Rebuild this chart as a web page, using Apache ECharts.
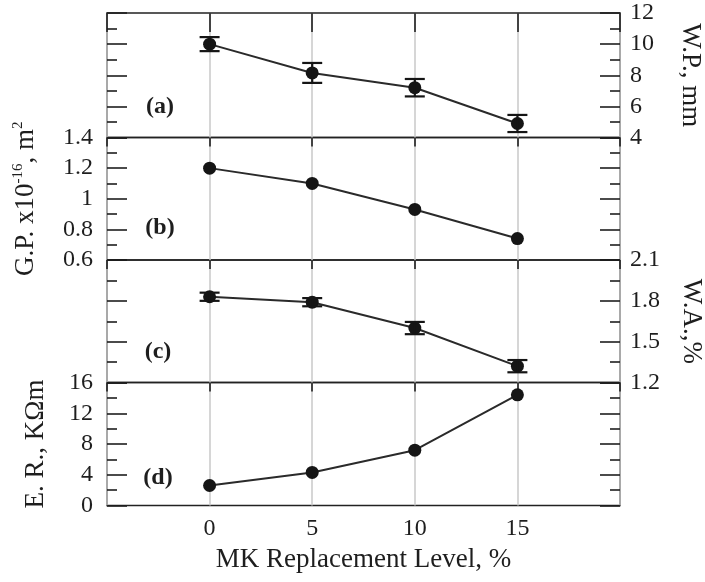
<!DOCTYPE html>
<html>
<head>
<meta charset="utf-8">
<script src="https://cdn.jsdelivr.net/npm/echarts@6/dist/echarts.min.js"></script>
<style>
html,body{margin:0;padding:0;background:#fff;}
#chart{width:705px;height:582px;}
</style>
</head>
<body>
<div id="chart"></div>
<script>
// ---- data ----
const mkLevels = [0, 5, 10, 15];
const wpValues = [10.0, 8.15, 7.2, 4.9];      // (a) W.P., mm
const wpErrors = [0.45, 0.64, 0.56, 0.55];
const gpValues = [1.2, 1.1, 0.93, 0.74];      // (b) G.P. x10^-16, m^2
const waValues = [1.83, 1.79, 1.6, 1.32];     // (c) W.A., %
const waErrors = [0.03, 0.03, 0.045, 0.045];
const erValues = [2.6, 4.3, 7.2, 14.4];       // (d) E.R., KΩm
const panelTags = ['(a)', '(b)', '(c)', '(d)'];

const FONT = 'Liberation Serif';
const INK = '#1e1e1e';

const grids = [
  {left:107, right:85, top:13, height:124.5},
  {left:107, right:85, top:137.5, height:122.5},
  {left:107, right:85, top:260, height:122.5},
  {left:107, right:85, top:382.5, height:123}
].map(g => Object.assign(g, {show:true, borderColor:'#222', borderWidth:1.6, backgroundColor:'transparent',
  containLabel:false, outerBoundsMode:'none'}));

const xAxes = [];
grids.forEach((g, i) => {
  xAxes.push({
    type:'value', gridIndex:i, position:'top', min:-5, max:20, interval:5,
    axisLine:{show:false, onZero:false},
    axisTick:{show:true, inside:true, length: i===0 ? 19 : 9, lineStyle:{color:INK, width:1.6}},
    axisLabel:{show:false},
    splitLine:{show:true, lineStyle:{color:'#c9c9c9', width:1.5}}
  });
});
xAxes.push({
  type:'value', gridIndex:3, position:'bottom', min:-5, max:20, interval:5,
  axisLine:{show:false, onZero:false}, axisTick:{show:false}, splitLine:{show:false},
  axisLabel:{show:true, fontFamily:FONT, fontSize:24, color:INK, margin:11,
    formatter: v => (v < 0 || v > 15) ? '' : String(v)},
  name:'MK Replacement Level, %', nameLocation:'middle', nameGap:41,
  nameTextStyle:{fontFamily:FONT, fontSize:27, color:INK}
});

const yScales = [
  {min:4, max:12, interval:2, side:'right', name:'W.P., mm', gap:57},
  {min:0.6, max:1.4, interval:0.2, side:'left', name:'{a|G.P. x10}{s|-16}{a|, m}{s|2}', gap:66},
  {min:1.2, max:2.1, interval:0.3, side:'right', name:'W.A.,%', gap:58},
  {min:0, max:16, interval:4, side:'left', name:'E. R., KΩm', gap:58}
];

const yAxes = [];
yScales.forEach((s, i) => {
  ['left','right'].forEach(pos => {
    const labeled = pos === s.side;
    const ax = {
      type:'value', gridIndex:i, position:pos, min:s.min, max:s.max, interval:s.interval,
      axisLine:{show:false, onZero:false},
      axisTick:{show:true, inside:true, length:20, lineStyle:{color:INK, width:1.6}},
      minorTick:{show:true, splitNumber:2, length:10, lineStyle:{color:INK, width:1.6}},
      splitLine:{show:false},
      axisLabel:{show:labeled, fontFamily:FONT, fontSize:24, color:INK, margin:pos==='left'?14:10}
    };
    if (labeled) {
      ax.name = s.name;
      ax.nameLocation = 'middle';
      ax.nameGap = s.gap;
      ax.nameRotate = pos === 'left' ? 90 : -90;
      ax.nameTextStyle = {fontFamily:FONT, fontSize:27, color:INK,
        rich:{
          a:{fontFamily:FONT, fontSize:27, color:INK, lineHeight:30},
          s:{fontFamily:FONT, fontSize:15, color:INK, verticalAlign:'top', lineHeight:30, padding:[0,0,12,0]}
        }};
    }
    yAxes.push(ax);
  });
});

function yIndex(panel, side){ return panel*2 + (side==='left'?0:1); }

const panelValues = [wpValues, gpValues, waValues, erValues];
const series = [];
panelValues.forEach((vals, i) => {
  series.push({
    type:'line', xAxisIndex:i, yAxisIndex:yIndex(i, yScales[i].side),
    data: mkLevels.map((x, k) => [x, vals[k]]),
    symbol:'circle', symbolSize:13,
    itemStyle:{color:'#151515'},
    lineStyle:{color:'#2a2a2a', width:2},
    z:3, animation:false
  });
});

function errRender(params, api){
  const x = api.value(0), y = api.value(1), e = api.value(2);
  const t = api.coord([x, y + e]), b = api.coord([x, y - e]);
  const hw = 10;
  const st = {stroke:'#151515', lineWidth:2.2};
  return {type:'group', children:[
    {type:'line', shape:{x1:t[0], y1:t[1], x2:b[0], y2:b[1]}, style:st},
    {type:'line', shape:{x1:t[0]-hw, y1:t[1], x2:t[0]+hw, y2:t[1]}, style:st},
    {type:'line', shape:{x1:b[0]-hw, y1:b[1], x2:b[0]+hw, y2:b[1]}, style:st}
  ]};
}
[[0, wpValues, wpErrors], [2, waValues, waErrors]].forEach(([p, vals, errs]) => {
  series.push({
    type:'custom', xAxisIndex:p, yAxisIndex:yIndex(p, yScales[p].side),
    renderItem: errRender, encode:{x:0, y:1},
    data: mkLevels.map((x, k) => [x, vals[k], errs[k]]),
    z:4, animation:false
  });
});

const tagPos = [[160,107],[160,228],[158,352],[158,478]];
const graphic = panelTags.map((t, i) => ({
  type:'text', x:tagPos[i][0], y:tagPos[i][1],
  style:{text:t, font:'bold 24px "Liberation Serif"', fill:INK, textAlign:'center', textVerticalAlign:'middle'}
}));

const chart = echarts.init(document.getElementById('chart'), null, {renderer:'canvas'});
chart.setOption({
  backgroundColor:'#fff',
  animation:false,
  grid: grids,
  xAxis: xAxes,
  yAxis: yAxes,
  series: series,
  graphic: graphic
});
</script>
</body>
</html>
